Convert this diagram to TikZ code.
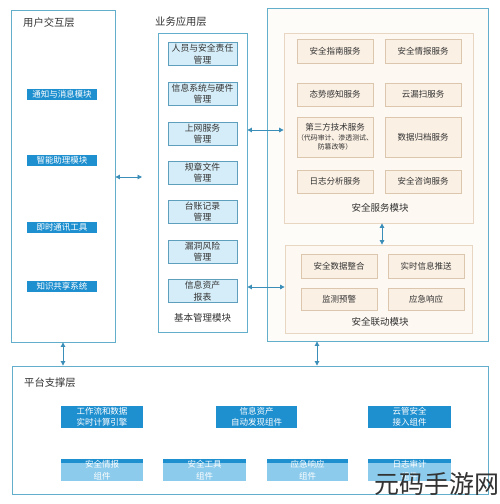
\documentclass[tikz,border=0pt]{standalone}
\usepackage{fontspec}
\setmainfont{Noto Sans CJK SC}
\usetikzlibrary{arrows.meta}
\definecolor{lineblue}{HTML}{62AECB}
\definecolor{barblue}{HTML}{1E8FCF}
\definecolor{lightfill}{HTML}{D5EDF8}
\definecolor{boxline}{HTML}{5E9FBD}
\definecolor{peachfill}{HTML}{FBF0E4}
\definecolor{peachline}{HTML}{DDC6AE}
\definecolor{modfill}{HTML}{FDF8F1}
\definecolor{modline}{HTML}{E8D5C2}
\definecolor{arrowc}{HTML}{3B8EB8}
\definecolor{lightbar}{HTML}{8CCBEC}
\definecolor{txt}{HTML}{333333}
\tikzset{
  layer/.style={draw=lineblue, line width=0.9pt, fill=white, inner sep=0pt},
  module/.style={draw=modline, line width=0.8pt, fill=modfill, inner sep=0pt},
  mgmt/.style={draw=boxline, line width=0.6pt, fill=lightfill, text=txt, minimum width=69, minimum height=23, inner sep=1pt, align=center, font=\fontsize{8.8}{11.5}\selectfont},
  svc/.style={draw=peachline, line width=0.6pt, fill=peachfill, text=txt, minimum width=76, inner sep=1pt, align=center, font=\fontsize{8.5}{11}\selectfont},
  bar/.style={fill=barblue, text=white, minimum width=70, minimum height=11, inner sep=0pt, font=\fontsize{8.5}{10}\selectfont},
  plat/.style={fill=barblue, text=white, minimum height=22, inner sep=0pt, align=center, font=\fontsize{8.5}{11}\selectfont},
  platlight/.style={fill=lightbar, text=white, minimum height=22, inner sep=0pt, align=center, font=\fontsize{8.5}{12.5}\selectfont},
  ttl/.style={text=txt, anchor=west, inner sep=0pt, font=\fontsize{10.3}{12}\selectfont},
  modttl/.style={text=txt, inner sep=0pt, font=\fontsize{9.5}{12}\selectfont},
  arr/.style={draw=arrowc, line width=0.9pt, {Triangle[length=4.5pt,width=4.5pt]}-{Triangle[length=4.5pt,width=4.5pt]}}
}
\begin{document}
\begin{tikzpicture}[x=1pt,y=-1pt]
\useasboundingbox (0,0) rectangle (500,504);
\fill[white] (0,0) rectangle (500,504);

% layers
\node[layer, minimum width=104, minimum height=332] (user) at (63,176) {};
\node[layer, minimum width=89, minimum height=299] (biz) at (202.5,182.5) {};
\node[layer, minimum width=221, minimum height=333, fill=modfill!40] (sec) at (377.5,174.5) {};
\node[layer, minimum width=476, minimum height=128] (plat) at (250,430) {};

% titles
\node[ttl] (t1) at (23,23) {用户交互层};
\node[ttl] (t2) at (155,22) {业务应用层};
\node[ttl] (t3) at (24,383) {平台支撑层};

% user bars
\node[bar] (u1) at (62,94.5) {通知与消息模块};
\node[bar] (u2) at (62,160.5) {智能助理模块};
\node[bar] (u3) at (62,227) {即时通讯工具};
\node[bar] (u4) at (62,286.5) {知识共享系统};

% business boxes
\node[mgmt] (b1) at (202.5,54) {人员与安全责任\\管理};
\node[mgmt] (b2) at (202.5,93.5) {信息系统与硬件\\管理};
\node[mgmt] (b3) at (202.5,133.5) {上网服务\\管理};
\node[mgmt] (b4) at (202.5,172.5) {规章文件\\管理};
\node[mgmt] (b5) at (202.5,211.5) {台账记录\\管理};
\node[mgmt] (b6) at (202.5,251.5) {漏洞风险\\管理};
\node[mgmt] (b7) at (202.5,291) {信息资产\\报表};
\node[modttl] (bt) at (202.5,318) {基本管理模块};

% security modules
\node[module, minimum width=189, minimum height=190] (svcm) at (378.5,128) {};
\node[module, minimum width=187, minimum height=88] (lnk) at (378.5,289) {};

\node[svc, minimum height=24] (s1) at (335,51) {安全指南服务};
\node[svc, minimum height=24] (s2) at (423,51) {安全情报服务};
\node[svc, minimum height=23] (s3) at (335,94.5) {态势感知服务};
\node[svc, minimum height=23] (s4) at (423,94.5) {云漏扫服务};
\node[svc, minimum height=40, inner sep=0pt] (s5) at (335,137) {第三方技术服务\\[-1pt]{\fontsize{6.9}{8.5}\selectfont （代码审计、渗透测试、}\\[-2pt]{\fontsize{6.9}{8.5}\selectfont 防篡改等）}};
\node[svc, minimum height=40] (s6) at (423,137) {数据归档服务};
\node[svc, minimum height=23] (s7) at (335,181.5) {日志分析服务};
\node[svc, minimum height=23] (s8) at (423,181.5) {安全咨询服务};
\node[modttl] (st) at (380,208) {安全服务模块};

\node[svc, minimum height=24] (l1) at (339,266) {安全数据整合};
\node[svc, minimum height=24] (l2) at (426,266) {实时信息推送};
\node[svc, minimum height=22] (l3) at (339,299) {监测预警};
\node[svc, minimum height=22] (l4) at (426,299) {应急响应};
\node[modttl] (lt) at (380,322) {安全联动模块};

% platform components
\node[plat, minimum width=82] (p1) at (102,417) {工作流和数据\\实时计算引擎};
\node[plat, minimum width=81] (p2) at (256.5,417) {信息资产\\自动发现组件};
\node[plat, minimum width=83] (p3) at (409.5,417) {云管安全\\接入组件};

\node[platlight, minimum width=82] (q1) at (102,470) {};
\node[platlight, minimum width=83] (q2) at (204.5,470) {};
\node[platlight, minimum width=81] (q3) at (307.5,470) {};
\node[platlight, minimum width=83] (q4) at (409.5,470) {};
\foreach \q in {q1,q2,q3,q4}{
  \fill[barblue] (\q.north west) rectangle ([yshift=-4.5]\q.north east);
}
\node[platlight, fill=none] (q1t) at (q1) {安全情报\\组件};
\node[platlight, fill=none] (q2t) at (q2) {安全工具\\组件};
\node[platlight, fill=none] (q3t) at (q3) {应急响应\\组件};
\node[platlight, fill=none] (q4t) at (q4) {日志审计\\组件};

% connectors
\coordinate (ua) at (142,177);
\draw[arr] (user.east |- ua) -- (ua);
\coordinate (ya) at (0,130);
\draw[arr] (biz.east |- ya) -- (svcm.west |- ya);
\coordinate (yb) at (0,287);
\draw[arr] (biz.east |- yb) -- (lnk.west |- yb);
\coordinate (xa) at (382,0);
\draw[arr] (svcm.south -| xa) -- (lnk.north -| xa);
\draw[arr] (user.south) -- (plat.north -| user.south);
\coordinate (xb) at (317,0);
\draw[arr] (sec.south -| xb) -- (plat.north -| xb);

% watermark
\node[text=black!80, inner sep=0pt, font=\fontsize{25}{25}\selectfont] (wm) at (437,484) {元码手游网};
\end{tikzpicture}
\end{document}
